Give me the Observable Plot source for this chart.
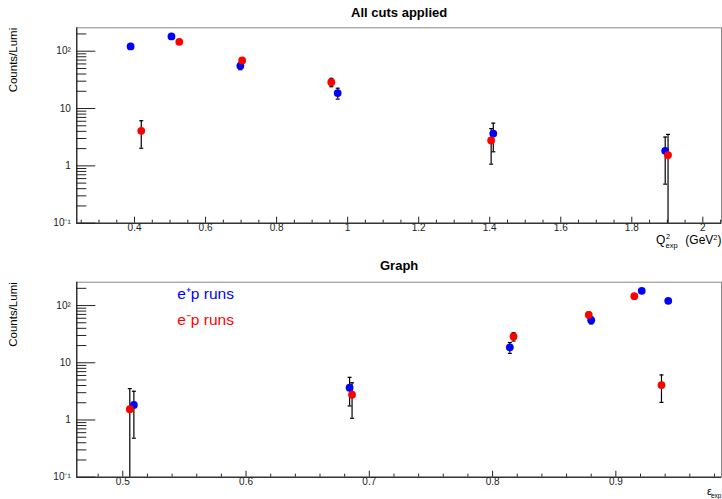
<!DOCTYPE html>
<html>
<head>
<meta charset="utf-8">
<script src="https://cdn.jsdelivr.net/npm/d3@7"></script>
<script src="https://cdn.jsdelivr.net/npm/@observablehq/plot@0.6"></script>
<style>
  body { margin: 0; background: #fff; font-family: "Liberation Sans", Arial, sans-serif; }
  svg { display: block; }
</style>
</head>
<body>
<div id="chart"></div>
<script>
// e+p runs (blue)
const q2Pos = [0.389, 0.504, 0.698, 0.972, 1.410, 1.894];
const epsPos = [0.9425, 0.921, 0.880, 0.814, 0.684, 0.509];
const countsPos = [121, 181, 55.6, 18.6, 3.66, 1.83];
const errPos = [10, 13, 8, 4, 1.9, 1.35];
// e-p runs (red)
const q2Neg = [0.419, 0.526, 0.703, 0.954, 1.404, 1.902];
const epsNeg = [0.937, 0.915, 0.878, 0.817, 0.686, 0.5057];
const countsNeg = [4.08, 146, 68.9, 28.8, 2.77, 1.54];
const errNeg = [2.05, 11, 8, 4.8, 1.7, 2.0];

const seriesNames = ["e⁺p runs", "e⁻p runs"];
const seriesColors = ["#0000ff", "#ff0000"];

const yTickValues = [0.1, 1, 10, 100];
const yTickLabels = ["10⁻¹", "1", "10", "10²"];
const q2TickValues = [0.4, 0.6, 0.8, 1.0, 1.2, 1.4, 1.6, 1.8, 2.0];
const q2TickLabels = ["0.4", "0.6", "0.8", "1", "1.2", "1.4", "1.6", "1.8", "2"];
const epsTickValues = [0.5, 0.6, 0.7, 0.8, 0.9];
const epsTickLabels = ["0.5", "0.6", "0.7", "0.8", "0.9"];

const panelTitles = ["All cuts applied", "Graph"];
const yTitle = "Counts/Lumi";

// build table
const rows = [];
q2Pos.forEach((q, i) => rows.push({s: seriesNames[0], q2: q, eps: epsPos[i], v: countsPos[i], e: errPos[i]}));
q2Neg.forEach((q, i) => rows.push({s: seriesNames[1], q2: q, eps: epsNeg[i], v: countsNeg[i], e: errNeg[i]}));

const yMin = 0.1, yMax = 256;
const yMinor = [];
for (const dec of [0.1, 1, 10, 100]) for (let k = 2; k <= 9; k++) if (dec * k <= yMax) yMinor.push(dec * k);

const capSymbol = {draw(ctx) { ctx.moveTo(-2, 0); ctx.lineTo(2, 0); }};

function panel({key, xDomain, xTicks, xLabels, xMinorStep, title, titleY, height, mt, mb, legend}) {
  const xMinor = d3.range(Math.ceil(xDomain[0] / xMinorStep) * xMinorStep, xDomain[1], xMinorStep)
    .filter(v => !xTicks.some(t => Math.abs(t - v) < 1e-6));
  const caps = [];
  rows.forEach(d => {
    caps.push({x: d[key], y: d.v + d.e});
    if (d.v - d.e > yMin) caps.push({x: d[key], y: d.v - d.e});
  });
  const marks = [
    Plot.frame({stroke: "#888"}),
    Plot.ruleX([xDomain[0]], {stroke: "black"}),
    Plot.ruleY([yMin], {stroke: "black"}),
    Plot.axisY({ticks: yTickValues, tickSize: -19, tickFormat: () => "", label: null}),
    Plot.axisY({ticks: yMinor, tickSize: -10, tickFormat: () => "", label: null}),
    Plot.axisY({ticks: yTickValues, tickSize: 0, tickPadding: 6, label: null, fontSize: 10,
      tickFormat: d => yTickLabels[yTickValues.findIndex(t => Math.abs(t - d) / t < 1e-6)]}),
    Plot.axisX({ticks: xTicks, tickSize: -6, tickFormat: () => "", label: null}),
    Plot.axisX({ticks: xMinor, tickSize: -3, tickFormat: () => "", label: null}),
    Plot.axisX({ticks: xTicks, tickSize: 0, tickPadding: 0.5, label: null, fontSize: 10,
      tickFormat: d => xLabels[xTicks.findIndex(t => Math.abs(t - d) < 1e-6)]}),
    Plot.ruleX(rows, {x: key, y1: d => Math.max(d.v - d.e, yMin), y2: d => d.v + d.e, stroke: "black", strokeWidth: 1.2}),
    Plot.dot(caps, {x: "x", y: "y", symbol: capSymbol, stroke: "black", strokeWidth: 1.2, r: 2}),
    Plot.dot(rows, {x: key, y: "v", fill: "s", r: 3.9}),
    Plot.text([title], {frameAnchor: "top", lineAnchor: "middle", dy: -(mt - titleY), fontWeight: "bold", fontSize: 13, fill: "black"}),
    Plot.text([yTitle], {frameAnchor: "top-left", lineAnchor: "middle", dx: -63.5, rotate: -90, textAnchor: "end", fontSize: 11.5, fill: "black"})
  ];
  if (legend) {
    marks.push(Plot.text([seriesNames[0]], {frameAnchor: "top-left", lineAnchor: "middle", dx: 100.4, dy: 12.3, textAnchor: "start", fontSize: 15.5, fill: seriesColors[0]}));
    marks.push(Plot.text([seriesNames[1]], {frameAnchor: "top-left", lineAnchor: "middle", dx: 100.4, dy: 38, textAnchor: "start", fontSize: 15.5, fill: seriesColors[1]}));
  }
  return Plot.plot({
    width: 722,
    height,
    marginLeft: 76.3,
    marginRight: 1,
    marginTop: mt,
    marginBottom: mb,
    style: {fontFamily: "Liberation Sans, Arial, sans-serif", background: "#fff", color: "#222", overflow: "visible"},
    x: {domain: xDomain},
    y: {type: "log", domain: [yMin, yMax]},
    color: {domain: seriesNames, range: seriesColors},
    marks
  });
}

const topPanel = panel({key: "q2", xDomain: [0.2375, 2.0525], xTicks: q2TickValues, xLabels: q2TickLabels, xMinorStep: 0.05,
  title: panelTitles[0], titleY: 12, height: 250, mt: 27.3, mb: 27.3, legend: false});
const bottomPanel = panel({key: "eps", xDomain: [0.4627, 0.9857], xTicks: epsTickValues, xLabels: epsTickLabels, xMinorStep: 0.02,
  title: panelTitles[1], titleY: 15.7, height: 249, mt: 31.7, mb: 22.3, legend: true});

// x axis titles with sub/superscripts
function addText(svg, x, y, txt, size, anchor = "start") {
  return d3.select(svg).append("text").attr("x", x).attr("y", y)
    .style("font-size", size + "px").attr("text-anchor", anchor).attr("fill", "black").text(txt);
}
addText(topPanel, 656, 244, "Q", 12);
addText(topPanel, 666, 239, "2", 7.5);
addText(topPanel, 665.5, 247.5, "exp", 7.5);
const g = addText(topPanel, 721.5, 244, "(GeV", 12, "end");
g.append("tspan").attr("dy", -4).style("font-size", "7.5px").text("2");
g.append("tspan").attr("dy", 4).text(")");

addText(bottomPanel, 707, 495 - 250, "ε", 11);
addText(bottomPanel, 711, 497.5 - 250, "exp", 6.5);

document.getElementById("chart").append(topPanel, bottomPanel);
</script>
</body>
</html>
